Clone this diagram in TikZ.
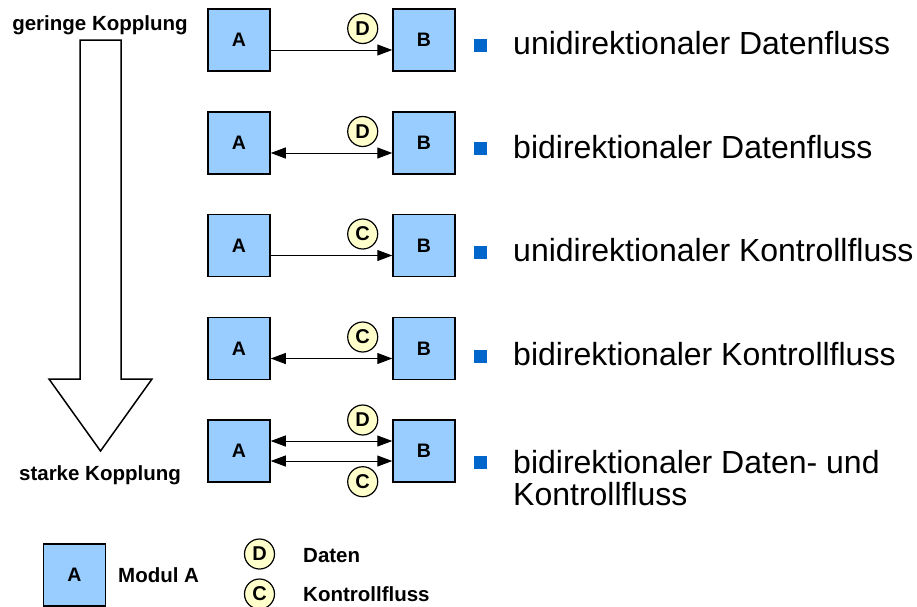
\documentclass[tikz,border=0pt]{standalone}
\usepackage{fontspec}
\setmainfont{Liberation Sans}
\usetikzlibrary{arrows.meta}
\definecolor{boxblue}{HTML}{99CCFF}
\definecolor{circyel}{HTML}{FFFFCC}
\definecolor{bulblue}{HTML}{0066CC}
\begin{document}
\begin{tikzpicture}[x=1pt,y=-1pt,
 modbox/.style={draw=black, line width=1.5pt, fill=boxblue, minimum width=62pt, minimum height=62pt, inner sep=0pt, font=\fontsize{19.5}{22}\selectfont\bfseries},
 tag/.style={circle, draw=black, line width=1.2pt, fill=circyel, minimum size=30pt, inner sep=0pt, font=\fontsize{20}{22}\selectfont\bfseries},
 flow/.style={line width=1pt, -{Triangle[length=15pt,width=11pt]}},
 biflow/.style={line width=1pt, {Triangle[length=15pt,width=11pt]}-{Triangle[length=15pt,width=11pt]}},
 bul/.style={fill=bulblue, minimum size=13pt, inner sep=0pt},
 bigtext/.style={anchor=base west, inner sep=0pt, font=\fontsize{32}{32}\selectfont, align=left},
 lbl/.style={font=\fontsize{20.5}{24}\selectfont\bfseries, inner sep=0pt}
]
\useasboundingbox[fill=white] (0,0) rectangle (917,606);

% big arrow
\draw[line width=1.5pt, fill=white] (80,40) -- (121,40) -- (121,379) -- (152,379) -- (100.5,451) -- (49,379) -- (80,379) -- cycle;
\node[lbl, anchor=base] (gk) at (100,30) {geringe Kopplung};
\node[lbl, anchor=base] (sk) at (100,480) {starke Kopplung};

% row 1
\node[modbox] (A1) at (239,40) {A};
\node[modbox] (B1) at (424,40) {B};
\draw[flow] ([yshift=-10pt]A1.east) -- ([yshift=-10pt]B1.west);
\node[tag] (t1) at (362.7,28.5) {D};
\node[bul] (b1) at (480.5,45) {};
\node[bigtext] (x1) at (513,54) {unidirektionaler Datenfluss};

% row 2
\node[modbox] (A2) at (239,143) {A};
\node[modbox] (B2) at (424,143) {B};
\draw[biflow] ([yshift=-10pt]A2.east) -- ([yshift=-10pt]B2.west);
\node[tag] (t2) at (362.7,131.5) {D};
\node[bul] (b2) at (480.5,148.5) {};
\node[bigtext] (x2) at (513,158) {bidirektionaler Datenfluss};

% row 3
\node[modbox] (A3) at (239,245.5) {A};
\node[modbox] (B3) at (424,245.5) {B};
\draw[flow] ([yshift=-10pt]A3.east) -- ([yshift=-10pt]B3.west);
\node[tag] (t3) at (362.7,234) {C};
\node[bul] (b3) at (480.5,252) {};
\node[bigtext] (x3) at (513,261) {unidirektionaler Kontrollfluss};

% row 4
\node[modbox] (A4) at (239,348.5) {A};
\node[modbox] (B4) at (424,348.5) {B};
\draw[biflow] ([yshift=-10pt]A4.east) -- ([yshift=-10pt]B4.west);
\node[tag] (t4) at (362.7,337) {C};
\node[bul] (b4) at (480.5,356) {};
\node[bigtext] (x4) at (513,365) {bidirektionaler Kontrollfluss};

% row 5
\node[modbox] (A5) at (239,451) {A};
\node[modbox] (B5) at (424,451) {B};
\draw[biflow] ([yshift=10pt]A5.east) -- ([yshift=10pt]B5.west);
\draw[biflow] ([yshift=-10pt]A5.east) -- ([yshift=-10pt]B5.west);
\node[tag] (t5) at (362.7,420) {D};
\node[tag] (t6) at (362.7,481.7) {C};
\node[bul] (b5) at (480.5,462) {};
\node[bigtext] (x5) at (513,505) {bidirektionaler Daten- und\\Kontrollfluss};

% legend
\node[modbox] (LA) at (74.5,575) {A};
\node[lbl, anchor=base west] (lm) at (118,582) {Modul A};
\node[tag] (LD) at (259.5,554) {D};
\node[tag] (LC) at (259.5,594) {C};
\node[lbl, anchor=base west] (ld) at (303,562) {Daten};
\node[lbl, anchor=base west] (lc) at (303,601) {Kontrollfluss};
\end{tikzpicture}
\end{document}
